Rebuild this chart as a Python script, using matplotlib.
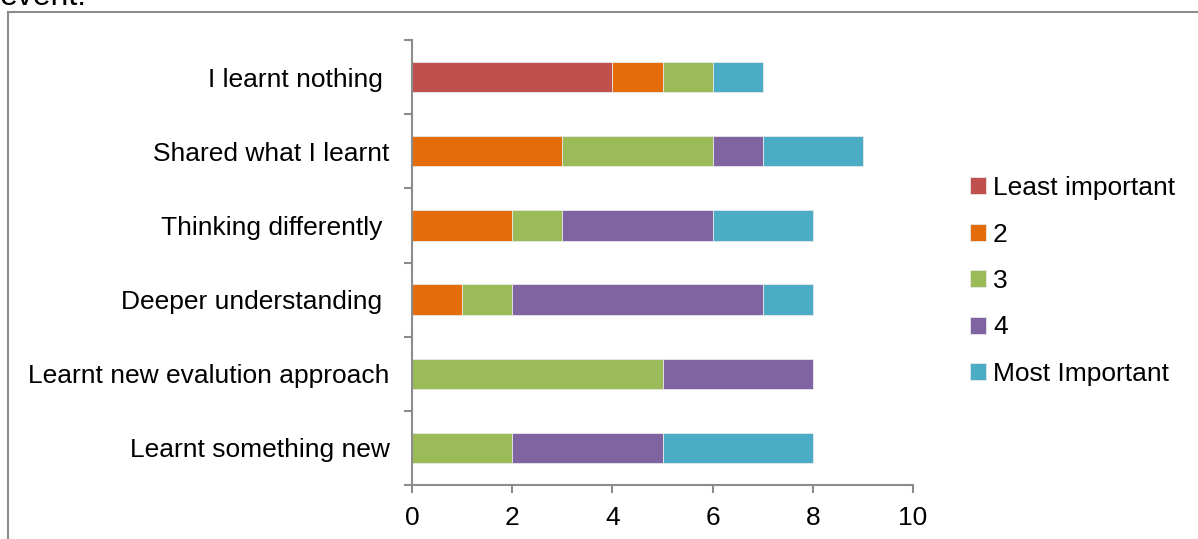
import matplotlib
matplotlib.use('Agg')
import numpy as np
import matplotlib.pyplot as plt
from matplotlib.patches import Rectangle

plt.rcParams['font.family'] = ['Liberation Sans', 'DejaVu Sans']

categories = ['Learnt something new', 'Learnt new evalution approach', 'Deeper understanding ',
              'Thinking differently ', 'Shared what I learnt', 'I learnt nothing ']
series = ['Least important', '2', '3', '4', 'Most Important']
least = [0, 0, 0, 0, 0, 4]
two = [0, 0, 1, 2, 3, 1]
three = [2, 5, 1, 1, 3, 1]
four = [3, 3, 5, 3, 1, 0]
most = [3, 0, 1, 2, 2, 1]
colors = ['#C0504D', '#E46C0A', '#9BBB59', '#8064A2', '#4BACC6']

fig = plt.figure(figsize=(11.98, 5.39), dpi=100)
# outer chart frame, running off the right and bottom edges
fig.patches.append(Rectangle((8 / 1198, -0.1), 1.2, 1 - 12 / 539 + 0.1, transform=fig.transFigure,
                             fill=False, edgecolor='#8c8c8c', linewidth=1.5))
fig.text(0.0, 1 - 5 / 539, 'event.', fontsize=23, va='baseline', ha='left')

ax = fig.add_axes([412 / 1198, 54 / 539, 501 / 1198, 445 / 539])
y = np.arange(len(categories))
left = np.zeros(len(categories))
for vals, name, c in zip([least, two, three, four, most], series, colors):
    vals = np.array(vals, dtype=float)
    ax.barh(y, vals, left=left, height=0.41, color=c, label=name,
            edgecolor='#e8e8e8', linewidth=0.6)
    left += vals

ax.set_xlim(0, 10)
ax.set_ylim(-0.5, 5.5)
ax.set_xticks([0, 2, 4, 6, 8, 10])
ax.set_yticks(y)
ax.set_yticklabels(categories)
ax.set_yticks(np.arange(-0.5, 6, 1), minor=True)
ax.tick_params(axis='y', which='major', length=0, pad=16, labelsize=19)
ax.tick_params(axis='y', which='minor', length=6, width=1.5, color='#8c8c8c', direction='out')
ax.tick_params(axis='x', length=6, width=1.5, color='#8c8c8c', direction='out', labelsize=19, pad=9)
for s in ['top', 'right']:
    ax.spines[s].set_visible(False)
for s in ['left', 'bottom']:
    ax.spines[s].set_color('#8c8c8c')
    ax.spines[s].set_linewidth(1.5)

ax.legend(loc='center left', bbox_to_anchor=(970 / 1198, 1 - 281 / 539), bbox_transform=fig.transFigure,
          frameon=False, fontsize=19, handlelength=0.62, handleheight=0.62, handletextpad=0.25,
          labelspacing=0.85, borderaxespad=0, borderpad=0)

fig.savefig('out.png', dpi=100)
